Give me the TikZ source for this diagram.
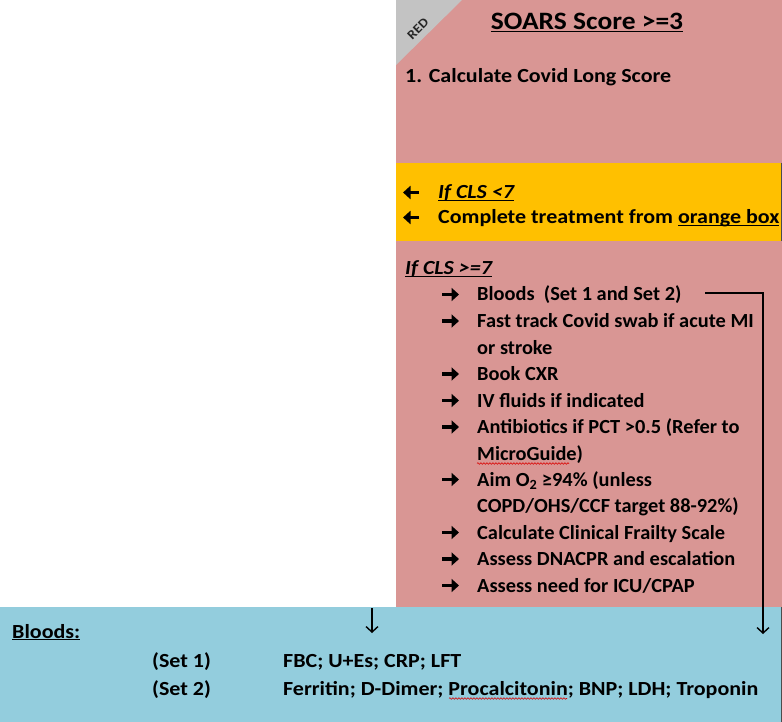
\documentclass[tikz,border=0pt]{standalone}
\usepackage{fontspec}
\setmainfont{Carlito}[FakeStretch=1.1]
\newfontfamily\narrowfont{Carlito}[FakeStretch=1.02]
\newcommand{\myul}[1]{\setbox0\hbox{#1}\rlap{\rule[-2.4pt]{\wd0}{1.2pt}}\box0}
\usetikzlibrary{arrows.meta,decorations.pathmorphing}
\definecolor{redbox}{HTML}{D99694}
\definecolor{orangeband}{HTML}{FFC000}
\definecolor{bluebox}{HTML}{93CDDD}
\definecolor{graycorner}{HTML}{C3C3C3}
\begin{document}
\begin{tikzpicture}[x=1pt,y=-1pt,
  txt/.style={anchor=base west,inner sep=0pt,font=\bfseries\fontsize{20}{24}\selectfont},
  btxt/.style={anchor=base west,inner sep=0pt,font=\narrowfont\bfseries\fontsize{20}{24}\selectfont},
  ttl/.style={anchor=base,inner sep=0pt,font=\bfseries\fontsize{25}{30}\selectfont},
  bul/.style={line width=3.4pt,-{Triangle[length=7.5pt,width=13pt]}},
  conn/.style={line width=1.4pt,-{Straight Barb[length=5.5pt,width=12pt,line width=1.4pt]}},
  wavy/.style={red!85!black,line width=0.6pt,decorate,decoration={snake,amplitude=0.8pt,segment length=3pt}}]
\useasboundingbox (0,0) rectangle (782,722);
% backgrounds
\fill[redbox] (396,0) rectangle (782,607);
\fill[orangeband] (396,163) rectangle (782,241);
\fill[graycorner] (396,0) -- (462,0) -- (396,65) -- cycle;
\fill[bluebox] (0,607) rectangle (782,722);
\draw[black!70,line width=0.8pt] (781.4,163) -- (781.4,241);
\draw[black!70,line width=0.8pt] (781.4,607) -- (781.4,722);
% corner label
\node[rotate=45,inner sep=0pt,font=\bfseries\fontsize{13}{15}\selectfont,text=black!85] (lbl) at (418,29) {RED};
% title
\node[ttl] (title) at (587,30) {\myul{SOARS Score >=3}};
\node[txt] (calc) at (405,83) {1. Calculate Covid Long Score};
% orange band
\node[txt] (lt7) at (438,199) {\myul{\itshape If CLS <7}};
\node[txt] (compl) at (438,224) {Complete treatment from \myul{orange box}};
\draw[bul] (419,192.5) -- (403,192.5);
\draw[bul] (419,217.5) -- (403,217.5);
% CLS >= 7
\node[txt] (ge7) at (405,275) {\myul{\itshape If CLS >=7}};
\node[btxt] (b1) at (477,301) {Bloods\ \ (Set 1 and Set 2)};
\node[btxt] (b2) at (477,327.5) {Fast track Covid swab if acute MI};
\node[btxt] (b2b) at (477,354) {or stroke};
\node[btxt] (b3) at (477,380.5) {Book CXR};
\node[btxt] (b4) at (477,407) {IV fluids if indicated};
\node[btxt] (b5) at (477,433.5) {Antibiotics if PCT >0.5 (Refer to};
\node[btxt] (b5b) at (477,460) {MicroGuide)};
\node[btxt] (b6) at (477,486) {Aim O\textsubscript{2} ≥94\% (unless};
\node[btxt] (b6b) at (477,512.5) {COPD/OHS/CCF target 88-92\%)};
\node[btxt] (b7) at (477,539) {Calculate Clinical Frailty Scale};
\node[btxt] (b8) at (477,565.5) {Assess DNACPR and escalation};
\node[btxt] (b9) at (477,592) {Assess need for ICU/CPAP};
\foreach \y in {301,327.5,380.5,407,433.5,486,539,565.5,592}
  \draw[bul] (442,\y-6.5) -- (459,\y-6.5);
\draw[wavy] (477,463.5) -- (569,463.5);
% blue box
\node[txt] (bl) at (12,638) {\myul{Bloods:}};
\node[txt] (s1) at (152,667) {(Set 1)};
\node[txt] (s2) at (152,695) {(Set 2)};
\node[txt] (s1t) at (283,667) {FBC; U+Es; CRP; LFT};
\node[txt] (s2t) at (283,695) {Ferritin; D-Dimer; Procalcitonin; BNP; LDH; Troponin};
\draw[wavy] (449,698.5) -- (567,698.5);
% connectors
\coordinate (c1) at (705,293);
\coordinate (c2) at (763,293);
\coordinate (c3) at (763,634);
\coordinate (d1) at (372,608);
\coordinate (d2) at (372,633);
\draw[conn] (c1) -- (c2) -- (c3);
\draw[conn] (d1) -- (d2);
\end{tikzpicture}
\end{document}
